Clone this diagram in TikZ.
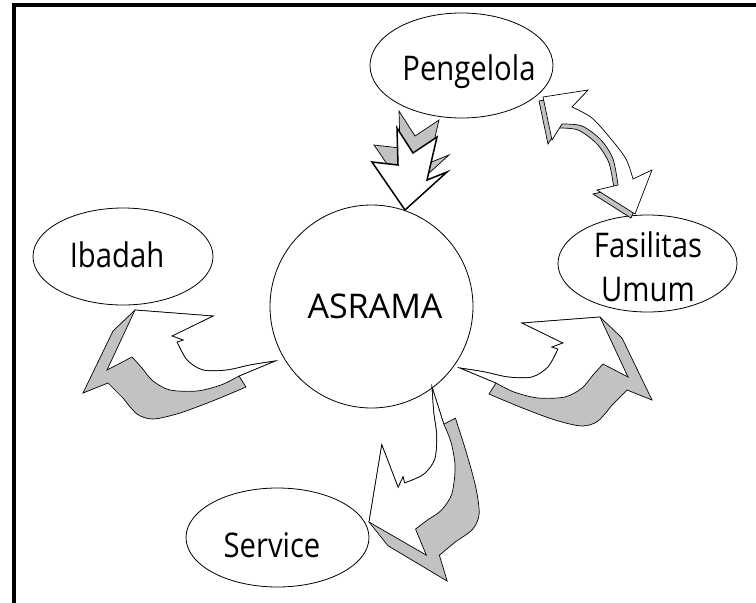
\documentclass[tikz,border=0pt]{standalone}
\usepackage{fontspec}
\setmainfont{Open Sans}
\newfontfamily\rotulo[FakeStretch=0.86]{Open Sans}
\usetikzlibrary{shapes.geometric}

% Flecha curva con sombra (coordenadas locales, punta superior en el origen)
\newcommand{\flechacurva}{%
  \filldraw[sombra] (0,0) -- (78,6) -- (37,26) -- (48,30) -- (42,32)
    -- plot[smooth] coordinates {(42,32) (52,50) (68,60) (92,60) (115,55) (140,51)}
    -- (104,66) -- (111,77)
    -- plot[smooth] coordinates {(111,77) (80,90) (45,103) (18,109) (2,104) (-12,88)}
    -- (-27,73) -- (-52,83) -- (-22,21) -- cycle;
  \filldraw[cara] (0,0) -- (78,6) -- (37,26) -- (48,30) -- (42,32)
    -- plot[smooth] coordinates {(42,32) (52,50) (68,60) (92,60) (115,55) (140,51)}
    -- (104,66)
    -- plot[smooth] coordinates {(104,66) (86,75) (62,81) (35,80) (18,71) (7,58) (-3,47)}
    -- (-28,60) -- cycle;
}

\begin{document}
\begin{tikzpicture}[x=1pt,y=-1pt,
  every node/.style={draw=black,line width=0.8pt},
  oval/.style={ellipse,inner sep=0pt},
  texto/.style={draw=none,anchor=base,font=\rotulo\fontsize{34}{44}\selectfont},
  sombra/.style={fill=black!24,draw=black,line width=0.7pt},
  cara/.style={fill=white,draw=black,line width=0.7pt}]
  \useasboundingbox (0,0) rectangle (756,603);

  % Marco
  \draw[line width=3.5pt] (14,603) -- (14,5) -- (756,5);

  % Elipses y circulo central
  \node[oval,minimum width=183,minimum height=105] (pengelola) at (461.5,65.5) {};
  \node[oval,minimum width=179,minimum height=97] (fasilitas) at (647.5,263.5) {};
  \node[oval,minimum width=180,minimum height=97] (ibadah) at (123,256.5) {};
  \node[oval,minimum width=183,minimum height=99] (service) at (277.5,537.5) {};
  \node[circle,inner sep=0pt,minimum size=203] (asrama) at (371.5,306.5) {};

  % Textos
  \node[texto] (tpengelola) at (469,80) {Pengelola};
  \node[texto,align=center] (tfasilitas) at (648,301) {Fasilitas\\Umum};
  \node[texto] (tibadah) at (117,267) {Ibadah};
  \node[texto] (tservice) at (272,557) {Service};
  \node[texto,font=\fontsize{34}{44}\selectfont] (tasrama) at (375,318) {ASRAMA};

  % Flecha de Pengelola hacia ASRAMA
  \filldraw[sombra,shift={(2,-17)}] (397,128) -- (413,153) -- (437,137) -- (427,180)
    -- (447,172) -- (405,210) -- (372,162) -- (398,165) -- cycle;
  \filldraw[cara,line width=1.5pt] (397,128) -- (413,153) -- (437,137) -- (427,180)
    -- (447,172) -- (405,210) -- (372,162) -- (398,165) -- cycle;

  % Flecha doble entre Pengelola y Fasilitas Umum
  \filldraw[sombra,shift={(-4,4)}] (543,97) -- (588,90) -- (572,107)
    -- plot[smooth] coordinates {(572,107) (592,118) (611,139) (626,159) (633,179)}
    -- (652,170) -- (635,214) -- (597,190) -- (618,185)
    -- plot[smooth] coordinates {(618,185) (613,159) (601,140) (582,126) (562,124)}
    -- (552,140) -- cycle;
  \filldraw[cara] (543,97) -- (588,90) -- (572,107)
    -- plot[smooth] coordinates {(572,107) (592,118) (611,139) (626,159) (633,179)}
    -- (652,170) -- (635,214) -- (597,190) -- (618,185)
    -- plot[smooth] coordinates {(618,185) (613,159) (601,140) (582,126) (562,124)}
    -- (552,140) -- cycle;

  % Flechas curvas desde ASRAMA
  \begin{scope}[shift={(135,310)}]
    \flechacurva
  \end{scope}
  \begin{scope}[shift={(600,317)},x={(-1pt,0pt)},y={(0pt,-1pt)}]
    \flechacurva
  \end{scope}
  \begin{scope}[shift={(369,522)},x={(0.0872pt,0.9962pt)},y={(0.9962pt,-0.0872pt)}]
    \flechacurva
  \end{scope}
\end{tikzpicture}
\end{document}
